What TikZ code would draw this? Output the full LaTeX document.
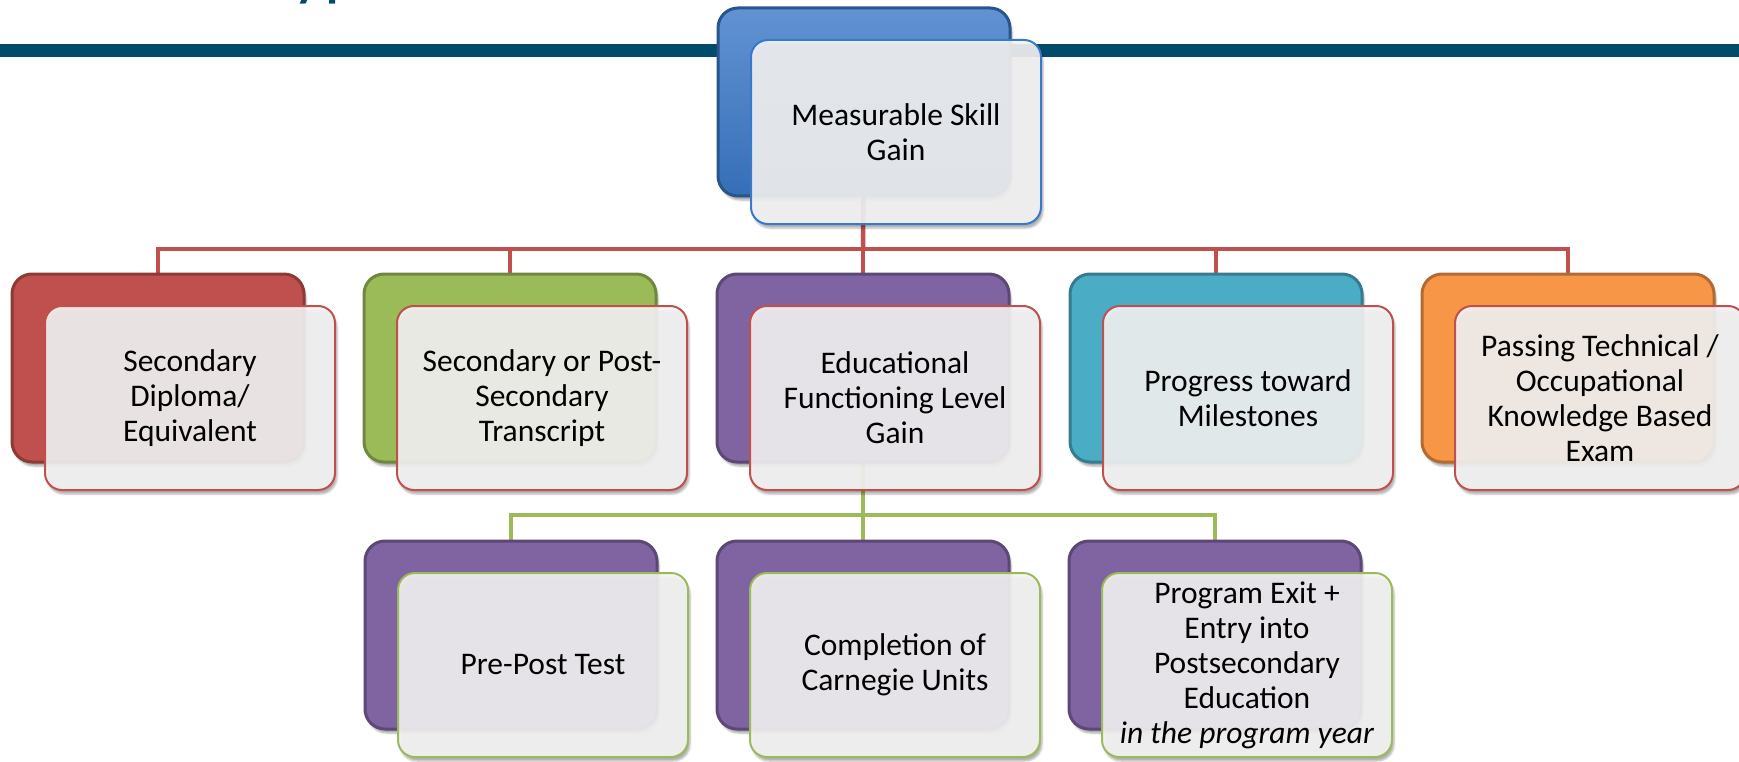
\documentclass[tikz,border=0pt]{standalone}
\usepackage{fontspec}
\setmainfont{Carlito}
\usetikzlibrary{shadows.blur}
\definecolor{bandblue}{HTML}{034B6B}
\definecolor{accblue}{HTML}{3A78C8}
\definecolor{accred}{HTML}{C0504D}
\definecolor{accgreen}{HTML}{9BBB59}
\definecolor{accpurple}{HTML}{8064A2}
\definecolor{accteal}{HTML}{4BACC6}
\definecolor{accorange}{HTML}{F79646}
\definecolor{paleback}{HTML}{F5F5F5}
\pgfdeclarelayer{bg}
\pgfsetlayers{bg,main}
% #1,#2 = top left corner of the coloured card, #3 = name, #4 = card style
\newcommand*{\SkillBox}[6]{
  \node[backcard,#4] (#3b) at (#1+146,#2+94) {};
  \node[frontcard,draw=#5] (#3) at (#1+178,#2+124) {#6};
}

\begin{document}
\begin{tikzpicture}[x=1pt,y=-1pt]
\tikzstyle{backcard}=[rectangle,rounded corners=20,minimum width=292,minimum height=188,
  inner sep=0,line width=3,blur shadow={shadow xshift=2pt,shadow yshift=-4pt,shadow opacity=35}]
\tikzstyle{frontcard}=[rectangle,rounded corners=17,minimum width=290,minimum height=184,
  inner sep=0,line width=2,fill=paleback,fill opacity=0.9,text opacity=1,align=center,
  font=\fontsize{31.5}{35}\selectfont,blur shadow={shadow xshift=2pt,shadow yshift=-4pt,shadow opacity=35}]
\tikzstyle{bluecard}=[top color=accblue!80!white,bottom color=accblue!92!black,draw=accblue!70!black]
\tikzstyle{redcard}=[fill=accred,draw=accred!72!black]
\tikzstyle{greencard}=[fill=accgreen,draw=accgreen!72!black]
\tikzstyle{purplecard}=[fill=accpurple,draw=accpurple!72!black]
\tikzstyle{tealcard}=[fill=accteal,draw=accteal!72!black]
\tikzstyle{orangecard}=[fill=accorange,draw=accorange!72!black]
\tikzstyle{redlink}=[draw=accred,line width=4.5]
\tikzstyle{greenlink}=[draw=accgreen,line width=4.5]
\useasboundingbox (0,0) rectangle (1739,762);

\SkillBox{718}{8}{msg}{bluecard}{accblue}{Measurable Skill\\Gain}

\SkillBox{12}{274}{dipl}{redcard}{accred}{Secondary\\Diploma/\\Equivalent}
\SkillBox{364}{274}{trans}{greencard}{accred}{Secondary or Post-\\Secondary\\Transcript}
\SkillBox{717}{274}{efl}{purplecard}{accred}{Educational\\Functioning Level\\Gain}
\SkillBox{1070}{274}{miles}{tealcard}{accred}{Progress toward\\Milestones}
\SkillBox{1422}{274}{exam}{orangecard}{accred}{Passing Technical /\\Occupational\\Knowledge Based\\Exam}

\SkillBox{365}{541}{prepost}{purplecard}{accgreen}{Pre-Post Test}
\SkillBox{717}{541}{carn}{purplecard}{accgreen}{Completion of\\Carnegie Units}
\SkillBox{1069}{541}{exit}{purplecard}{accgreen}{Program Exit +\\Entry into\\Postsecondary\\Education\\\textit{in the program year}}

\begin{pgfonlayer}{bg}
\fill[bandblue] (0,44) rectangle (1739,57);
\node[anchor=base west,inner sep=0,text=bandblue,font=\fontsize{72}{80}\selectfont] (title) at (292,-7) {yp};

\coordinate (redbar) at (863,249);
\draw[redlink] (msgb.center) -- (redbar);
\draw[redlink] (diplb.north) |- (redbar);
\draw[redlink] (transb.north) |- (redbar);
\draw[redlink] (eflb.north) |- (redbar);
\draw[redlink] (milesb.north) |- (redbar);
\draw[redlink] (examb.north) |- (redbar);

\coordinate (greenbar) at (863,515);
\draw[greenlink] (eflb.center) -- (greenbar);
\draw[greenlink] (prepostb.north) |- (greenbar);
\draw[greenlink] (carnb.north) |- (greenbar);
\draw[greenlink] (exitb.north) |- (greenbar);
\end{pgfonlayer}

\end{tikzpicture}
\end{document}
